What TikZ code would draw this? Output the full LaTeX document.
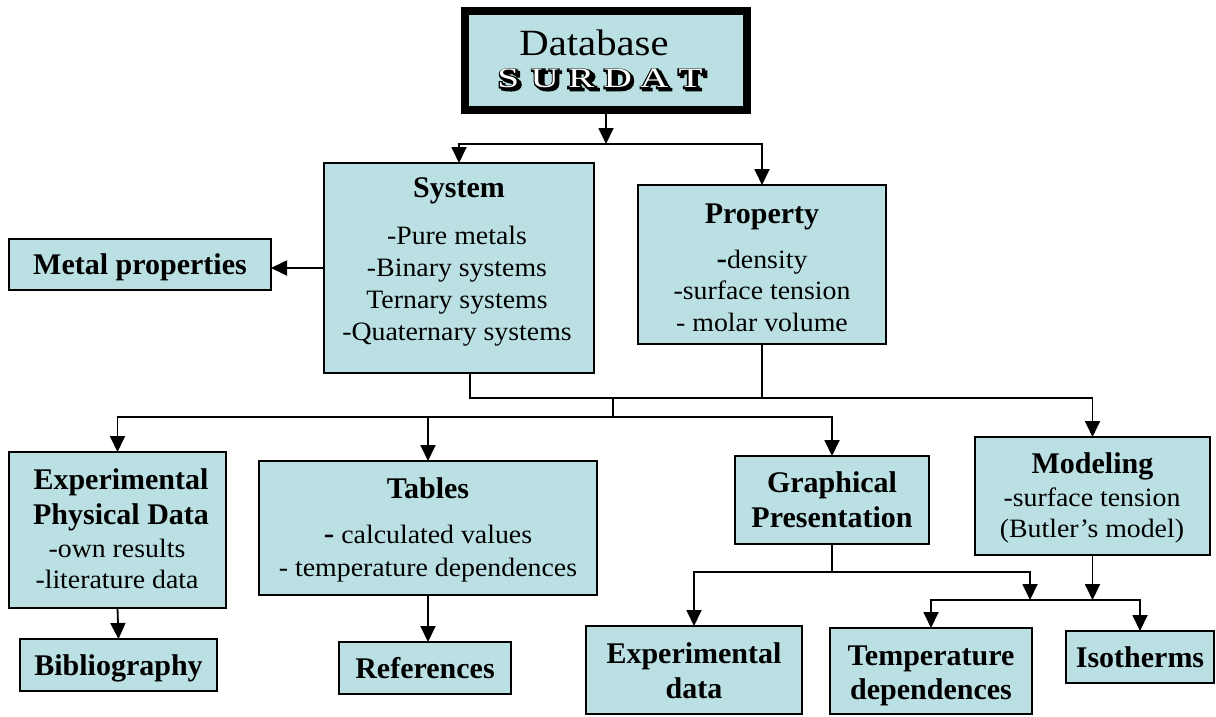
\documentclass[tikz,border=0pt]{standalone}
\usepackage{fontspec}
\usepackage{graphicx}
\setmainfont{Liberation Serif}
\newfontfamily\nrm[FakeStretch=1.05]{Liberation Serif}
\newfontfamily\dbfont[FakeStretch=1.1]{Liberation Serif}
\newfontfamily\surA[FakeStretch=1.4]{Liberation Serif}
\newfontfamily\surB[UprightFont={* Bold},FakeStretch=1.4,FakeBold=9]{Liberation Serif}
\usetikzlibrary{arrows.meta,calc}
\definecolor{boxfill}{RGB}{187,224,227}
\newcommand{\surword}{\makebox[36.5pt][c]{S}\makebox[36.5pt][c]{U}\makebox[36.5pt][c]{R}\makebox[36.5pt][c]{D}\makebox[36.5pt][c]{A}\makebox[36.5pt][c]{T}}
\newcommand{\bdash}{{\bfseries\fontsize{30}{32}\selectfont -}}
\begin{document}
\begin{tikzpicture}[x=1pt,y=-1pt,
  box/.style={draw=black, line width=2pt, fill=boxfill, inner sep=0pt, outer sep=0pt, anchor=north west, align=center},
  ctr/.style={text height=20pt, text depth=0pt, font=\fontsize{30}{35}\selectfont\bfseries},
  bt/.style={font=\fontsize{30}{35}\selectfont\bfseries, anchor=base, inner sep=0pt},
  nt/.style={font=\nrm\fontsize{26.5}{32}\selectfont, anchor=base, inner sep=0pt},
  sur/.style={anchor=base, inner sep=0pt},
  line/.style={draw=black, line width=1.8pt},
  arr/.style={line, -{Triangle[width=15pt,length=16pt]}}]
\useasboundingbox (0,0) rectangle (1216,716);

% boxes
\node[box, line width=8pt, minimum width=282pt, minimum height=99pt] (surdat) at (465,11) {};
\node[box, minimum width=270pt, minimum height=210pt] (sys) at (324,163) {};
\node[box, ctr, minimum width=262pt, minimum height=51pt] (met) at (9,239) {Metal properties};
\node[box, minimum width=248pt, minimum height=159pt] (prop) at (638,185) {};
\node[box, minimum width=217pt, minimum height=156pt] (exp) at (9,452) {};
\node[box, ctr, minimum width=197pt, minimum height=52pt] (bib) at (20,639) {Bibliography};
\node[box, minimum width=338pt, minimum height=134pt] (tab) at (259,461) {};
\node[box, ctr, minimum width=172pt, minimum height=52pt] (ref) at (339,642) {References};
\node[box, minimum width=194pt, minimum height=88pt] (gra) at (735,456) {};
\node[box, minimum width=235pt, minimum height=118pt] (mod) at (975,437) {};
\node[box, minimum width=216pt, minimum height=88pt] (expd) at (586,626) {};
\node[box, minimum width=202pt, minimum height=86pt] (tem) at (830,628) {};
\node[box, ctr, minimum width=148pt, minimum height=52pt] (iso) at (1066,631) {Isotherms};

% SURDAT title
\node[anchor=base, inner sep=0pt, font=\dbfont\fontsize{37}{40}\selectfont] (tdb) at (594,55) {Database};
\node[sur, text=black, font=\surB\fontsize{28}{28}\selectfont] (tsur1) at (602.5,90) {\surword};
\node[sur, text=black, font=\surB\fontsize{28}{28}\selectfont] (tsur2) at (600,88) {\surword};
\node[sur, text=white, font=\surA\fontsize{28}{28}\selectfont] (tsur3) at (599.5,87.5) {\surword};

% System
\node[bt] (ts0) at (459,197) {System};
\node[nt] (ts1) at (457,244) {-Pure metals};
\node[nt] (ts2) at (457,276) {-Binary systems};
\node[nt] (ts3) at (457,308) {Ternary systems};
\node[nt] (ts4) at (457,340) {-Quaternary systems};

% Property
\node[bt] (tp0) at (762,223) {Property};
\node[nt] (tp1) at (762,268) {\bdash density};
\node[nt] (tp2) at (762,299.5) {-surface tension};
\node[nt] (tp3) at (762,331) {- molar volume};

% Experimental physical data
\node[bt] (te0) at (121,489) {Experimental};
\node[bt] (te1) at (121,524) {Physical Data};
\node[nt] (te2) at (117,557) {-own results};
\node[nt] (te3) at (117,588) {-literature data};

% Tables
\node[bt] (tt0) at (428,498) {Tables};
\node[nt] (tt1) at (428,543) {\bdash\ calculated values};
\node[nt] (tt2) at (428,576) {- temperature dependences};

% Graphical
\node[bt] (tg0) at (832,492) {Graphical};
\node[bt] (tg1) at (832,527) {Presentation};

% Modeling
\node[bt] (tm0) at (1092.5,473) {Modeling};
\node[nt] (tm1) at (1092,506) {-surface tension};
\node[nt] (tm2) at (1092,537) {(Butler’s model)};

% Experimental data
\node[bt] (tx0) at (694,663) {Experimental};
\node[bt] (tx1) at (694,698) {data};

% Temperature dependences
\node[bt] (tq0) at (931,665) {Temperature};
\node[bt] (tq1) at (931,699) {dependences};

% connectors
\coordinate (h1) at ($(surdat.south)+(0,34)$);
\draw[arr] (surdat.south) -- (h1);
\draw[arr] (h1) -| (sys.north);
\draw[arr] (h1) -| (prop.north);
\draw[arr] (sys.west) -- (sys.west -| met.east);

\coordinate (busA) at (613,398);
\coordinate (busB) at (613,417);
\draw[arr] ($(sys.south)+(11,0)$) |- (busA) -| (mod.north);
\draw[line] (prop.south) -- (prop.south |- busA);
\draw[line] (busA) -- (busB);
\draw[arr] (busB) -| (exp.north);
\draw[arr] (busB) -| (tab.north);
\draw[arr] (busB) -| (gra.north);
\draw[arr] (exp.south) -- (bib.north);
\draw[arr] (tab.south) -- (tab.south |- ref.north);

\coordinate (busC) at ($(gra.south)+(0,28)$);
\coordinate (busD) at (1030,600);
\draw[line] (gra.south) -- (busC);
\draw[arr] (busC) -| (expd.north);
\draw[arr] (busC) -| (busD);
\draw[arr] (mod.south) -- (mod.south |- busD);
\draw[arr] (busD) -| (tem.north);
\draw[arr] (busD) -| (iso.north);
\end{tikzpicture}
\end{document}
